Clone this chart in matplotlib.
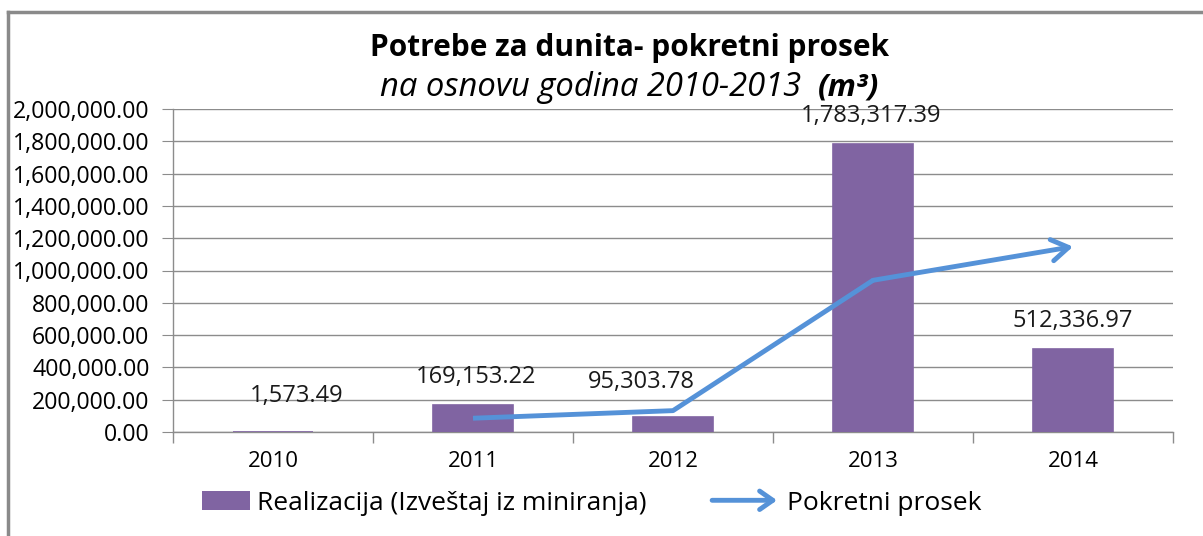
import matplotlib.pyplot as plt
import numpy as np
from matplotlib.patches import FancyArrowPatch, Rectangle
from matplotlib.legend_handler import HandlerBase
from matplotlib.ticker import FuncFormatter, MultipleLocator

# === DATA ===
years = ['2010', '2011', '2012', '2013', '2014']
realizacija = [1573.49, 169153.22, 95303.78, 1783317.39, 512336.97]
prosek_years = ['2011', '2012', '2013', '2014']
prosek = [85363.36, 132228.50, 939310.59, 1147827.18]

# label nudges in pixels (dx, dy above bar top)
label_offsets = [(24, 36), (3, 28), (-32, 35), (-2, 28), (0, 28)]

bar_color = '#8064A2'
line_color = '#5592D8'
grid_color = '#8C8C8C'

plt.rcParams['font.family'] = ['Open Sans', 'DejaVu Sans']


class ArrowHandler(HandlerBase):
    def create_artists(self, legend, orig_handle, xdescent, ydescent,
                       width, height, fontsize, trans):
        y = height / 2 - ydescent
        a = FancyArrowPatch((-xdescent - 4, y), (width - xdescent, y),
                            arrowstyle='->,head_length=0.5,head_width=0.35',
                            mutation_scale=fontsize * 1.0, lw=3.5,
                            color=line_color, transform=trans)
        return [a]


class BoxHandler(HandlerBase):
    def create_artists(self, legend, orig_handle, xdescent, ydescent,
                       width, height, fontsize, trans):
        w = width * 0.74
        r = Rectangle((width - w - xdescent, -ydescent), w, height,
                      facecolor=bar_color, edgecolor='none', transform=trans)
        return [r]


fig = plt.figure(figsize=(12.03, 5.36), dpi=100)
ax = fig.add_axes([173 / 1203, 1 - 432 / 536, 1000 / 1203, 323 / 536])

x = np.arange(len(years))
xp = np.array([years.index(y) for y in prosek_years])

bars = ax.bar(x, realizacija, width=0.4, color=bar_color,
              edgecolor=bar_color, lw=1.2, zorder=2.6)
ax.plot(xp[:-1], prosek[:-1], color=line_color, lw=3.5,
        solid_capstyle='butt', zorder=3)
ax.annotate('', xy=(xp[-1], prosek[-1]), xytext=(xp[-2], prosek[-2]),
            arrowprops=dict(arrowstyle='->,head_length=0.55,head_width=0.35',
                            color=line_color, lw=3.5, mutation_scale=22,
                            shrinkA=0, shrinkB=0),
            zorder=3)

for i, v in enumerate(realizacija):
    dx, dy = label_offsets[i]
    ax.annotate(f'{v:,.2f}', xy=(x[i], v), xytext=(dx, dy),
                textcoords='offset pixels', ha='center', va='center',
                fontsize=17, color='#1a1a1a')

ax.set_xlim(-0.5, len(years) - 0.5)
ax.set_ylim(0, 2000000)
ax.yaxis.set_major_locator(MultipleLocator(200000))
ax.yaxis.set_major_formatter(FuncFormatter(lambda v, p: f'{v:,.2f}'))
ax.set_xticks(x)
ax.set_xticklabels(years)
ax.set_xticks(np.arange(-0.5, len(years)), minor=True)
ax.tick_params(axis='x', which='major', length=0, pad=14, labelsize=16)
ax.tick_params(axis='x', which='minor', length=8, color=grid_color, width=1)
ax.tick_params(axis='y', length=8, color=grid_color, labelsize=16.7, pad=9)

ax.grid(axis='y', color=grid_color, lw=1, zorder=0)
ax.set_axisbelow(True)
for s in ['top', 'right']:
    ax.spines[s].set_visible(False)
for s in ['left', 'bottom']:
    ax.spines[s].set_color(grid_color)
    ax.spines[s].set_linewidth(1)

# title
fig.text(630 / 1203, 1 - 48 / 536, 'Potrebe za dunita- pokretni prosek',
         ha='center', va='center', fontsize=21.5, fontweight='bold')
fig.text(810 / 1203, 1 - 88 / 536, 'na osnovu godina 2010-2013 ',
         ha='right', va='center', fontsize=23.6, style='italic')
fig.text(818 / 1203, 1 - 88 / 536, '(m³)',
         ha='left', va='center', fontsize=22.5, style='italic', fontweight='bold')

# legend
h_bar = Rectangle((0, 0), 1, 1)
h_line = FancyArrowPatch((0, 0), (1, 0))
fig.legend([h_bar, h_line],
           ['Realizacija (Izveštaj iz miniranja)', 'Pokretni prosek'],
           handler_map={Rectangle: BoxHandler(), FancyArrowPatch: ArrowHandler()},
           ncol=2, loc='center left', bbox_to_anchor=(161 / 1203, 1 - 503 / 536),
           frameon=False, fontsize=19, handlelength=2.46, handletextpad=0.27,
           columnspacing=2.6, handleheight=0.75)

# chart border
fig.add_artist(plt.Line2D([8 / 1203, 8 / 1203], [0, 1 - 12 / 536],
                          transform=fig.transFigure, color='#8A8A8A', lw=2.5))
fig.add_artist(plt.Line2D([8 / 1203, 1], [1 - 12 / 536, 1 - 12 / 536],
                          transform=fig.transFigure, color='#8A8A8A', lw=2.5))

fig.savefig('out.png', dpi=100)
